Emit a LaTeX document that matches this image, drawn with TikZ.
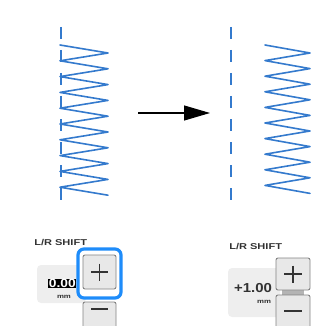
\documentclass[tikz,border=0pt]{standalone}
\usepackage{fontspec}
\setmainfont{Liberation Sans}
\usetikzlibrary{arrows.meta}
\definecolor{zig}{RGB}{52,122,205}
\definecolor{hil}{RGB}{30,140,250}
\definecolor{btnfill}{RGB}{232,232,232}
\definecolor{btnline}{RGB}{130,130,130}
\definecolor{dispfill}{RGB}{238,238,238}
\definecolor{txt}{RGB}{50,50,50}
\tikzset{
  zigline/.style={draw=zig,line width=1.6pt,line join=round,line cap=round},
  dashline/.style={draw=zig,line width=1.3pt,dash pattern=on 12pt off 11pt},
  btn/.style={draw=btnline,fill=btnfill,line width=0.9pt,rounded corners=2pt},
  disp/.style={fill=dispfill,rounded corners=4pt},
  lbl/.style={font=\bfseries\fontsize{8.5}{9}\selectfont,text=txt,inner sep=0pt,xscale=1.3},
  val/.style={font=\bfseries\fontsize{13}{14}\selectfont,text=txt,inner sep=0pt,xscale=1.15},
  unit/.style={font=\bfseries\fontsize{6}{7}\selectfont,text=txt,inner sep=0pt,xscale=1.3},
  sign/.style={line width=1.8pt,draw=black!80}
}
\begin{document}
\begin{tikzpicture}[x=1pt,y=-1pt]
\useasboundingbox (0,0) rectangle (323,326);
% dashed needle lines
\draw[dashline] (61,27) -- (61,202);
\draw[dashline] (231,27) -- (231,202);
% left zigzag
\draw[zigline] (60,45)
  \foreach \k in {0,...,9}{ -- (108,{53+15.8*\k}) \ifnum\k<9 -- (60,{60.8+15.8*\k})\fi };
% right zigzag
\draw[zigline] (265,45)
  \foreach \k in {0,...,9}{ -- (310,{53+15.6*\k}) \ifnum\k<9 -- (265,{60.6+15.6*\k})\fi };
% arrow
\coordinate (a1) at (138,113);
\coordinate (a2) at (210,113);
\draw[line width=1.1pt,-{Triangle[length=26pt,width=15pt]}] (a1) -- (a2);
% left panel
\node[lbl,anchor=west] (lblL) at (34,243) {L/R SHIFT};
\path[disp] (37,265) rectangle (86,303);
\node[fill=black,text=white,font=\bfseries\fontsize{12}{13}\selectfont,inner sep=0.6pt,xscale=1.15,anchor=west] (valL) at (48,283.5) {0.00};
\node[unit] (unitL) at (64,296.5) {mm};
\path[btn] (83,302) rectangle (116,330);
\draw[sign] (91,309) -- (108,309);
\draw[hil,fill=white,line width=3.2pt,rounded corners=6pt] (78,249) rectangle (121,298);
\node[btn,minimum width=33pt,minimum height=34pt,inner sep=0pt] (plusL) at (99.5,272) {};
\draw[sign] (91,272) -- (108,272) (99.5,263.5) -- (99.5,280.5);
% right panel
\node[lbl,anchor=west] (lblR) at (229,247) {L/R SHIFT};
\path[disp] (228,268) rectangle (280,317);
\node[val] (valR) at (253,288) {+1.00};
\node[unit] (unitR) at (264,301.5) {mm};
\path[fill=btnline!60] (282,289) rectangle (304,296);
\path[btn] (276,295) rectangle (310,330);
\draw[sign] (284,311) -- (302,311);
\node[btn,minimum width=34pt,minimum height=32pt,inner sep=0pt] (plusR) at (293,274) {};
\draw[sign] (284,274) -- (302,274) (293,265.5) -- (293,282.5);
\end{tikzpicture}
\end{document}
